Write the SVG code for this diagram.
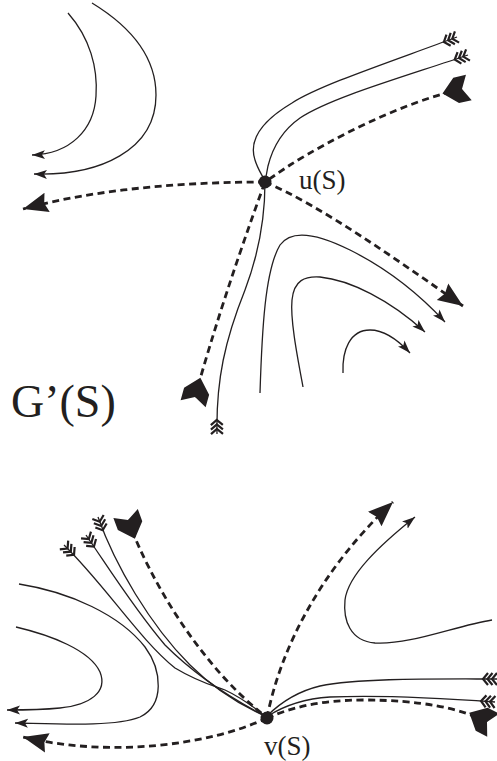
<svg xmlns="http://www.w3.org/2000/svg" width="497" height="761" viewBox="0 0 497 761">
<style>
.s{fill:none;stroke:#231f20;stroke-width:1.3}
.d{fill:none;stroke:#231f20;stroke-width:2.8;stroke-dasharray:7 4.5}
.t{font-family:"Liberation Serif","Times New Roman",serif;fill:#231f20}
</style>
<defs>
<marker id="tri" markerUnits="userSpaceOnUse" viewBox="0 -11 26 22" markerWidth="26" markerHeight="22" refX="25" refY="0" orient="auto">
<path d="M0,-10 L25,0 L0,10 L3,0 Z" fill="#231f20"/>
</marker>
<marker id="arr" markerUnits="userSpaceOnUse" viewBox="0 -5 14 10" markerWidth="14" markerHeight="10" refX="13" refY="0" orient="auto">
<path d="M0,-4.5 L13,0 L0,4.5 L3,0 Z" fill="#231f20"/>
</marker>
<marker id="fl" markerUnits="userSpaceOnUse" viewBox="-2 -8 18 16" markerWidth="18" markerHeight="16" refX="0" refY="0" orient="auto">
<path d="M0,-6 L5,0 L0,6 M4.5,-6 L9.5,0 L4.5,6 M9,-6 L14,0 L9,6" fill="none" stroke="#231f20" stroke-width="2.2"/>
</marker>
<marker id="chev" markerUnits="userSpaceOnUse" viewBox="-14 -15 33 30" markerWidth="33" markerHeight="30" refX="-4" refY="0" orient="auto">
<path d="M16,0 L2,-13 L-11,-13 L-4,0 L-11,13 L2,13 Z" fill="#231f20"/>
</marker>
</defs>
<g id="connectors">
<!-- top-left -->
<path class="s" marker-end="url(#arr)" d="M68,13 C90,38 98,68 96,96 C94,130 70,154 32,155"/>
<path class="s" marker-end="url(#arr)" d="M92,3 C128,25 156,55 156,95 C156,150 100,176 34,174"/>
<path class="d" marker-end="url(#tri)" d="M265,182 C190,182 100,188 23,209"/>
<!-- top-right -->
<path class="s" marker-start="url(#fl)" d="M457,37 C390,62 320,85 292,103 C255,125 250,145 255,160 C258,170 263,176 265,182"/>
<path class="s" marker-start="url(#fl)" d="M468,55 C400,78 330,98 300,118 C280,132 272,150 268,166 L265,182"/>
<path class="d" marker-start="url(#chev)" d="M462,89 C400,103 330,140 290,165 L265,182"/>
<!-- top down -->
<path class="d" marker-start="url(#chev)" d="M195,397 Q222,300 265,182"/>
<path class="s" marker-start="url(#fl)" d="M217,434 C216,380 225,340 245,290 C262,245 265,210 265,182"/>
<path class="d" marker-end="url(#tri)" d="M265,182 C320,205 400,262 463,306"/>
<path class="s" marker-end="url(#arr)" d="M260,393 C262,330 265,270 280,245 C292,228 320,235 350,250 C390,270 420,295 445,322"/>
<path class="s" marker-end="url(#arr)" d="M303,387 C298,360 290,320 292,300 C294,280 305,276 320,277 C350,280 390,300 425,332"/>
<path class="s" marker-end="url(#arr)" d="M343,373 C342,350 350,330 370,330 C385,330 398,340 410,353"/>
<!-- bottom-left -->
<path class="s" marker-start="url(#fl)" d="M98,517 C115,565 150,625 190,665 C215,690 245,707 265,716"/>
<path class="s" marker-start="url(#fl)" d="M86,535 C110,570 135,610 165,645 C200,680 240,703 265,716"/>
<path class="s" marker-start="url(#fl)" d="M64,545 C105,585 140,640 175,668 C200,683 215,686 225,690 C240,697 255,708 265,716"/>
<path class="d" marker-start="url(#chev)" d="M128,520 C150,580 200,665 265,716"/>
<path class="s" marker-end="url(#arr)" d="M19,584 C70,592 120,615 145,647 C162,670 165,705 140,717 C115,727 60,724 15,723"/>
<path class="s" marker-end="url(#arr)" d="M16,627 C50,635 90,650 100,672 C108,692 90,705 60,708 C40,710 20,710 7,710"/>
<path class="d" marker-end="url(#tri)" d="M267,718 C210,745 110,758 23,737"/>
<!-- bottom-right -->
<path class="d" marker-end="url(#tri)" d="M267,718 C280,650 320,570 393,502"/>
<path class="s" marker-end="url(#arr)" d="M492,620 C455,626 410,645 375,643 C350,641 343,620 345,600 C348,575 380,545 415,517"/>
<path class="s" marker-start="url(#fl)" d="M497,679 C430,679 360,678 320,686 C295,692 278,705 267,716"/>
<path class="s" marker-start="url(#fl)" d="M495,702 C440,698 380,695 330,697 C300,699 282,707 268,716"/>
<path class="d" marker-start="url(#chev)" d="M487,722 C460,708 420,700 363,700 C320,700 290,708 267,718"/>
</g>
<g id="node-u">
<circle cx="265" cy="182" r="6.5" fill="#231f20"/>
<text class="t" x="299" y="189" font-size="27">u(S)</text>
</g>
<g id="node-v">
<circle cx="267" cy="718" r="6.5" fill="#231f20"/>
<text class="t" x="264" y="755" font-size="27">v(S)</text>
</g>
<g id="title">
<text class="t" x="11" y="417" font-size="46">G’(S)</text>
</g>
</svg>
